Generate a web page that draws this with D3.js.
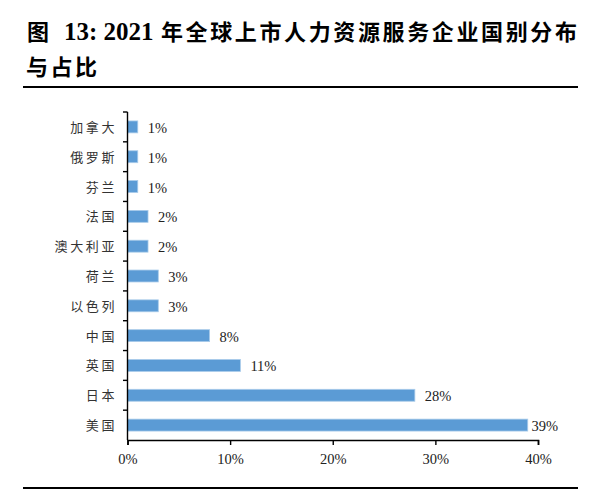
<!DOCTYPE html>
<html>
<head>
<meta charset="utf-8">
<script src="https://cdn.jsdelivr.net/npm/d3@7/dist/d3.min.js"></script>
<style>
  html, body { margin: 0; padding: 0; background: #fff; }
  svg { display: block; }
</style>
</head>
<body>
<svg id="chart" width="602" height="493"></svg>
<script>
const categories = ["加拿大","俄罗斯","芬兰","法国","澳大利亚","荷兰","以色列","中国","英国","日本","美国"];
const values = [1,1,1,2,2,3,3,8,11,28,39];
const xTicks = [0,10,20,30,40];
const titleLine1 = ["图", "13: 2021", "年全球上市人力资源服务企业国别分布"];
const titleLine2 = "与占比";

const CJK = "'Noto Sans CJK SC', 'Noto Sans CJK JP', sans-serif";
const SERIF = "'Liberation Serif', 'DejaVu Serif', serif";

const svg = d3.select("#chart");
svg.append("rect").attr("width", 602).attr("height", 493).attr("fill", "#fff");

// Title
const t1 = svg.append("text").attr("y", 40).attr("fill", "#000").attr("font-weight", "bold");
t1.append("tspan").attr("x", 27).attr("font-family", CJK).attr("font-size", 22).text(titleLine1[0]);
t1.append("tspan").attr("x", 64).attr("font-family", SERIF).attr("font-size", 25).text(titleLine1[1]);
t1.append("tspan").attr("x", 161).attr("font-family", CJK).attr("font-size", 22)
  .attr("textLength", 416).attr("lengthAdjust", "spacing").text(titleLine1[2]);
svg.append("text").attr("x", 26).attr("y", 75).attr("fill", "#000").attr("font-weight", "bold")
  .attr("font-family", CJK).attr("font-size", 22)
  .attr("textLength", 71).attr("lengthAdjust", "spacing").text(titleLine2);

// rules
svg.append("line").attr("x1", 23).attr("x2", 578).attr("y1", 87).attr("y2", 87)
  .attr("stroke", "#000").attr("stroke-width", 2.2);
svg.append("line").attr("x1", 23).attr("x2", 578).attr("y1", 488).attr("y2", 488)
  .attr("stroke", "#000").attr("stroke-width", 2.2);

// Scales
const x = d3.scaleLinear().domain([0, 40]).range([127.5, 538]);
const y = d3.scaleBand().domain(categories).range([112, 440]).paddingInner(0.6).paddingOuter(0.3);

const data = categories.map((c, i) => ({c, v: values[i]}));

// Bars
svg.append("g").selectAll("rect").data(data).join("rect")
  .attr("x", x(0))
  .attr("y", d => y(d.c))
  .attr("width", d => x(d.v) - x(0))
  .attr("height", y.bandwidth())
  .attr("fill", "#5B9BD5")
  .attr("stroke", "#A9CBEA")
  .attr("stroke-width", 0.8);

// Y axis line and boundary ticks
const yAxisG = svg.append("g").attr("stroke", "#000").attr("stroke-width", 1.4);
yAxisG.append("line").attr("x1", x(0)).attr("x2", x(0)).attr("y1", 112).attr("y2", 440);
const bounds = categories.map(c => y(c) - y.step() * y.paddingInner() / 2);
yAxisG.selectAll("line.tk").data(bounds).join("line").attr("class", "tk")
  .attr("x1", x(0) - 4.5).attr("x2", x(0)).attr("y1", d => d).attr("y2", d => d);

// Category labels
svg.append("g").selectAll("text").data(data).join("text")
  .attr("x", 117)
  .attr("y", d => y(d.c) + y.bandwidth() / 2 + 5)
  .attr("text-anchor", "end")
  .attr("font-family", CJK)
  .attr("font-size", 13)
  .attr("letter-spacing", 2.6)
  .attr("fill", "#333")
  .text(d => d.c);

// X axis
const xAxis = d3.axisBottom(x).tickValues(xTicks).tickSize(5).tickFormat(d => d + "%");
const xg = svg.append("g").attr("transform", "translate(0,440)").call(xAxis);
xg.select(".domain").attr("stroke", "#000").attr("stroke-width", 1.6);
xg.selectAll(".tick line").attr("stroke", "#000").attr("stroke-width", 1.4);
xg.selectAll(".tick text")
  .attr("y", 24).attr("dy", null)
  .attr("font-family", SERIF).attr("font-size", 14.5).attr("fill", "#222");

// Value labels
const labels = svg.append("g").selectAll("text").data(data).join("text")
  .attr("x", d => x(d.v) + 10)
  .attr("y", d => y(d.c) + y.bandwidth() / 2 + 6)
  .attr("font-family", SERIF)
  .attr("font-size", 14.5)
  .attr("fill", "#222")
  .text(d => d.v + "%");
labels.each(function() {
  const el = d3.select(this);
  const w = this.getComputedTextLength();
  const xx = +el.attr("x");
  if (xx + w > 558) el.attr("x", 558 - w);
});
</script>
</body>
</html>
